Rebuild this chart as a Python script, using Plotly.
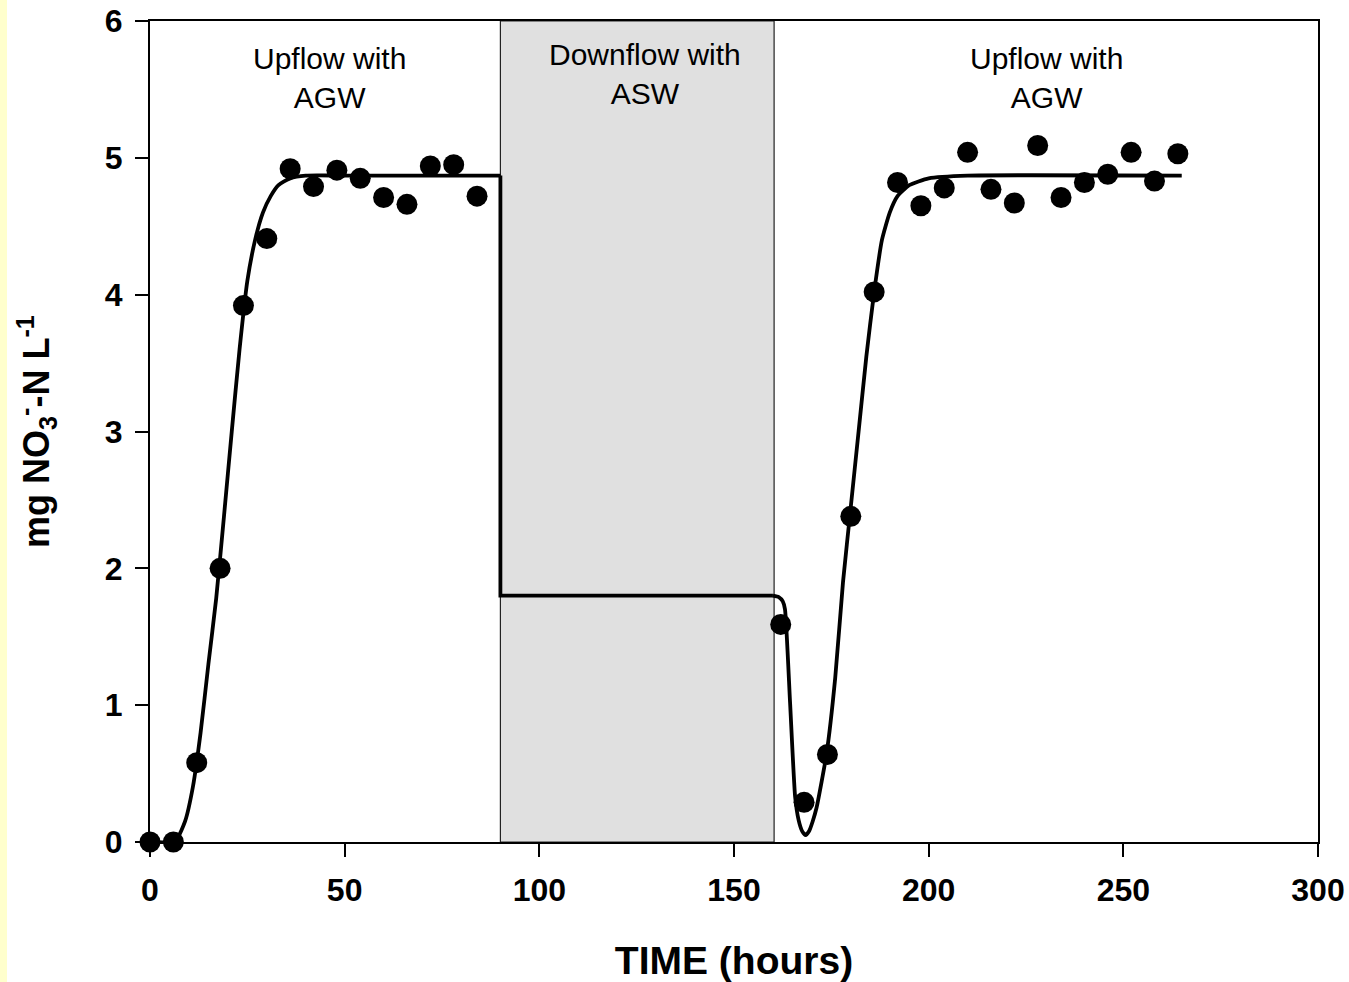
import plotly.graph_objects as go

# measured data points
time_h = [0, 6, 12, 18, 24, 30, 36, 42, 48, 54, 60, 66, 72, 78, 84,
          162, 168, 174, 180, 186, 192, 198, 204, 210, 216, 222, 228, 234, 240, 246, 252, 258, 264]
no3 = [0.0, 0.0, 0.58, 2.0, 3.92, 4.41, 4.92, 4.79, 4.91, 4.85, 4.71, 4.66, 4.94, 4.95, 4.72,
       1.59, 0.29, 0.64, 2.38, 4.02, 4.82, 4.65, 4.78, 5.04, 4.77, 4.67, 5.09, 4.71, 4.82, 4.88, 5.04, 4.83, 5.03]

# fitted curve, phase 1 (upflow)
fit1_t = [0, 5, 7, 9, 11, 13, 15, 17, 19, 21, 23, 25, 27, 29, 31, 33, 36, 40, 50, 90]
fit1_y = [0.0, 0.0, 0.03, 0.15, 0.4, 0.8, 1.3, 1.78, 2.38, 3.0, 3.6, 4.1, 4.4, 4.6, 4.72, 4.8, 4.85, 4.87, 4.87, 4.87]
# phase 2 (downflow)
fit2_t = [90, 90, 160]
fit2_y = [4.87, 1.8, 1.8]
# phase 3 (upflow again)
fit3_t = [160, 161.5, 162.5, 163.1, 164.4, 165.7, 166.6, 167.5, 168.4, 169.3, 170.2, 171.2, 173.8,
          176, 178, 180, 182, 184, 186, 188, 190, 192, 195, 200, 210, 265]
fit3_y = [1.8, 1.79, 1.76, 1.7, 1.02, 0.33, 0.16, 0.08, 0.05, 0.08, 0.15, 0.25, 0.65,
          1.2, 1.9, 2.45, 3.0, 3.55, 4.02, 4.4, 4.6, 4.72, 4.8, 4.85, 4.87, 4.87]

phase_start = 90
phase_end = 160.3
region_labels = ["Upflow with<br>AGW", "Downflow with<br>ASW", "Upflow with<br>AGW"]
region_x = [46.2, 127.1, 230.2]
region_y = [5.58, 5.61, 5.58]

FONT = "Liberation Sans, Arial, sans-serif"

fig = go.Figure()

line_style = dict(color="black", width=3.8)
fig.add_trace(go.Scatter(x=fit1_t, y=fit1_y, mode="lines",
                         line=dict(shape="spline", smoothing=0.6, **line_style), hoverinfo="skip"))
fig.add_trace(go.Scatter(x=fit2_t, y=fit2_y, mode="lines", line=line_style, hoverinfo="skip"))
fig.add_trace(go.Scatter(x=fit3_t, y=fit3_y, mode="lines",
                         line=dict(shape="spline", smoothing=0.5, **line_style), hoverinfo="skip"))
fig.add_trace(go.Scatter(x=time_h, y=no3, mode="markers",
                         marker=dict(color="black", size=21, line=dict(width=0)), cliponaxis=False))

fig.add_shape(type="rect", xref="x", yref="y", x0=phase_start, x1=phase_end, y0=0, y1=6,
              fillcolor="#E0E0E0", line=dict(color="#222222", width=1.2), layer="below")

# yellow strip at left edge of page
fig.add_shape(type="rect", xref="paper", yref="paper",
              x0=-150 / 1168, x1=-143 / 1168, y0=-145 / 821, y1=1 + 30 / 821,
              fillcolor="#FFFFCC", line=dict(width=0), layer="below")

for lab, xx, yy in zip(region_labels, region_x, region_y):
    fig.add_annotation(x=xx, y=yy, xref="x", yref="y", text=lab, showarrow=False,
                       font=dict(family=FONT, size=30, color="black"), align="center")

fig.update_layout(
    width=1349, height=982,
    margin=dict(l=150, r=31, t=21, b=140, autoexpand=False),
    paper_bgcolor="white", plot_bgcolor="white",
    showlegend=False,
    font=dict(family=FONT, color="black"),
)
fig.update_xaxes(range=[0, 300], tickvals=[0, 50, 100, 150, 200, 250, 300],
                 automargin=False,
                 showgrid=False, zeroline=False, showline=True, linecolor="black", linewidth=2,
                 mirror=True, ticks="outside", ticklen=13, tickwidth=2, tickcolor="black",
                 ticklabelstandoff=6,
                 tickfont=dict(family=FONT, size=32, weight="bold"),
                 title=dict(text="TIME (hours)", font=dict(family=FONT, size=39, weight="bold"), standoff=40))
fig.update_yaxes(range=[0, 6], tickvals=[0, 1, 2, 3, 4, 5, 6],
                 automargin=False,
                 showgrid=False, zeroline=False, showline=True, linecolor="black", linewidth=2,
                 mirror=True, ticks="outside", ticklen=13, tickwidth=2, tickcolor="black",
                 ticklabelstandoff=6,
                 tickfont=dict(family=FONT, size=32, weight="bold"),
                 title=dict(text="mg NO<sub>3</sub><sup>-</sup>-N L<sup>-1</sup>",
                            font=dict(family=FONT, size=36, weight="bold"), standoff=44))

fig.write_html("out.html")
